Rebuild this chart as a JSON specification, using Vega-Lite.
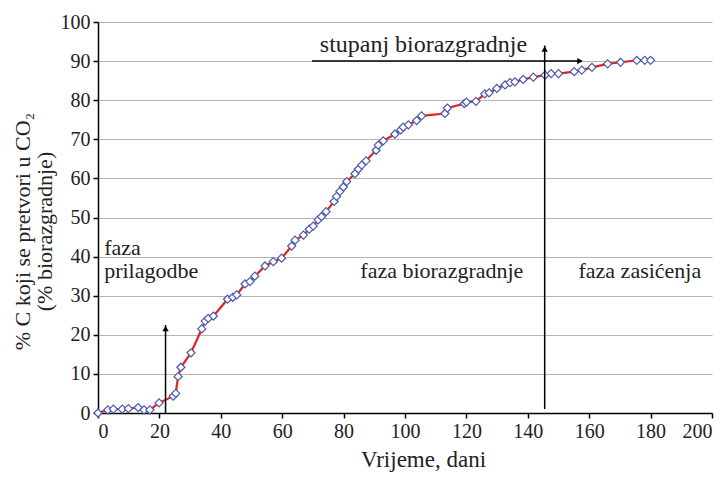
{
  "$schema": "https://vega.github.io/schema/vega-lite/v6.json",
  "width": 614,
  "height": 391,
  "autosize": {"type": "none"},
  "padding": {"left": 98, "top": 22, "right": 13, "bottom": 67},
  "background": "white",
  "config": {
    "view": {"stroke": null},
    "font": "Liberation Serif",
    "axis": {
      "labelFont": "Liberation Serif",
      "titleFont": "Liberation Serif",
      "labelFontSize": 20,
      "titleFontSize": 23,
      "titleFontWeight": "normal",
      "labelColor": "#222",
      "titleColor": "#222",
      "domainColor": "black",
      "domainWidth": 1.5,
      "tickColor": "black",
      "tickWidth": 1.5,
      "tickSize": 5,
      "labelOverlap": false
    }
  },
  "datasets": {
    "series": [
      {"t": 0, "p": 0}, {"t": 3.2, "p": 0.8}, {"t": 5, "p": 1}, {"t": 7.9, "p": 1}, {"t": 9.9, "p": 1.1},
      {"t": 13.1, "p": 1.4}, {"t": 15, "p": 0.8}, {"t": 16.9, "p": 0.8}, {"t": 19.9, "p": 2.6},
      {"t": 24.5, "p": 4.3}, {"t": 25.3, "p": 5.0}, {"t": 26.1, "p": 9.3}, {"t": 27, "p": 11.7},
      {"t": 30.3, "p": 15.4}, {"t": 33.8, "p": 21.5}, {"t": 34.9, "p": 23.5}, {"t": 35.9, "p": 24.2},
      {"t": 37.6, "p": 24.8}, {"t": 42.2, "p": 29.1}, {"t": 43.9, "p": 29.6}, {"t": 45.2, "p": 30.2},
      {"t": 47.9, "p": 33}, {"t": 49.5, "p": 33.6}, {"t": 51.1, "p": 35}, {"t": 54.4, "p": 37.6},
      {"t": 57.1, "p": 38.7}, {"t": 59.8, "p": 39.6}, {"t": 63.1, "p": 42.7}, {"t": 64.2, "p": 44.2},
      {"t": 66.9, "p": 45.5}, {"t": 68.8, "p": 47}, {"t": 70.1, "p": 47.8}, {"t": 71.7, "p": 49.4},
      {"t": 72.8, "p": 50.2}, {"t": 74.3, "p": 51.5}, {"t": 76.9, "p": 54.1}, {"t": 77.7, "p": 55.4},
      {"t": 78.8, "p": 56.7}, {"t": 79.9, "p": 57.8}, {"t": 81, "p": 59.2}, {"t": 83.7, "p": 61.2},
      {"t": 84.8, "p": 62.4}, {"t": 85.9, "p": 63.4}, {"t": 87.3, "p": 64.5}, {"t": 90.6, "p": 67.2},
      {"t": 91.3, "p": 68.5}, {"t": 92.9, "p": 69.6}, {"t": 96.7, "p": 71.3}, {"t": 98.6, "p": 72.4},
      {"t": 99.4, "p": 73.1}, {"t": 101.1, "p": 73.7}, {"t": 103.8, "p": 74.8}, {"t": 105.4, "p": 76},
      {"t": 113, "p": 76.6}, {"t": 113.8, "p": 78}, {"t": 119.3, "p": 79.1}, {"t": 120, "p": 79.5},
      {"t": 123.1, "p": 79.7}, {"t": 126, "p": 81.6}, {"t": 127.4, "p": 81.9}, {"t": 129.9, "p": 83},
      {"t": 132.6, "p": 83.9}, {"t": 134.2, "p": 84.5}, {"t": 135.8, "p": 84.7}, {"t": 138.5, "p": 85.3},
      {"t": 141.8, "p": 85.9}, {"t": 145.6, "p": 86.4}, {"t": 147.6, "p": 86.8}, {"t": 150, "p": 86.8},
      {"t": 155.1, "p": 87.3}, {"t": 157.6, "p": 87.7}, {"t": 160.9, "p": 88.4}, {"t": 166, "p": 89.3},
      {"t": 170.2, "p": 89.7}, {"t": 175.5, "p": 90.2}, {"t": 178.1, "p": 90.2}, {"t": 180, "p": 90.2}
    ],
    "vrules": [
      {"t": 22, "p": 0, "p2": 22.5},
      {"t": 145.5, "p": 1, "p2": 94}
    ],
    "hrules": [
      {"t": 69.7, "t2": 157.5, "p": 90}
    ],
    "uparrows": [
      {"t": 22, "p": 21.6},
      {"t": 145.5, "p": 93.1}
    ],
    "rightarrows": [
      {"t": 157, "p": 90}
    ],
    "leftlabels": [
      {"t": 2, "p": 40.4, "txt": "faza"},
      {"t": 2, "p": 34.4, "txt": "prilagodbe"}
    ],
    "centerlabels": [
      {"t": 112, "p": 34.4, "txt": "faza biorazgradnje"},
      {"t": 176.5, "p": 34.4, "txt": "faza zasićenja"}
    ],
    "toplabel": [
      {"t": 106, "p": 92.4, "txt": "stupanj biorazgradnje"}
    ]
  },
  "encoding": {
    "x": {
      "field": "t", "type": "quantitative",
      "scale": {"domain": [0, 200], "nice": false},
      "axis": {"values": [0,20,40,60,80,100,120,140,160,180,200], "grid": false, "title": "Vrijeme, dani", "titleX": 325, "titlePadding": 7, "labelPadding": 3}
    },
    "y": {
      "field": "p", "type": "quantitative",
      "scale": {"domain": [0, 100], "nice": false},
      "axis": {"values": [0,10,20,30,40,50,60,70,80,90,100], "grid": true, "gridColor": "#b5b5b5", "gridWidth": 1.2,
               "title": ["% C koji se pretvori u CO₂", "(% biorazgradnje)"], "titleFontSize": 22, "titleY": 209, "titlePadding": 4, "titleLineHeight": 22, "labelPadding": 3}
    }
  },
  "layer": [
    {
      "data": {"name": "series"},
      "mark": {"type": "line", "color": "#e8201c", "strokeWidth": 2.2}
    },
    {
      "data": {"name": "series"},
      "mark": {"type": "point", "shape": "diamond", "size": 65, "filled": false, "stroke": "#4a5aae", "fill": "white", "fillOpacity": 1, "strokeWidth": 1.2}
    },
    {
      "data": {"name": "vrules"},
      "mark": {"type": "rule", "color": "black", "strokeWidth": 1.5},
      "encoding": {
        "y2": {"field": "p2"}
      }
    },
    {
      "data": {"name": "hrules"},
      "mark": {"type": "rule", "color": "black", "strokeWidth": 1.5},
      "encoding": {
        "x2": {"field": "t2"}
      }
    },
    {
      "data": {"name": "uparrows"},
      "mark": {"type": "point", "shape": "triangle-up", "size": 40, "filled": true, "color": "black", "opacity": 1}
    },
    {
      "data": {"name": "rightarrows"},
      "mark": {"type": "point", "shape": "triangle-right", "size": 40, "filled": true, "color": "black", "opacity": 1}
    },
    {
      "data": {"name": "leftlabels"},
      "mark": {"type": "text", "font": "Liberation Serif", "fontSize": 22, "color": "#222", "baseline": "alphabetic", "align": "left"},
      "encoding": {"text": {"field": "txt"}}
    },
    {
      "data": {"name": "centerlabels"},
      "mark": {"type": "text", "font": "Liberation Serif", "fontSize": 22, "color": "#222", "baseline": "alphabetic", "align": "center"},
      "encoding": {"text": {"field": "txt"}}
    },
    {
      "data": {"name": "toplabel"},
      "mark": {"type": "text", "font": "Liberation Serif", "fontSize": 24, "color": "#222", "baseline": "alphabetic", "align": "center"},
      "encoding": {"text": {"field": "txt"}}
    }
  ]
}
